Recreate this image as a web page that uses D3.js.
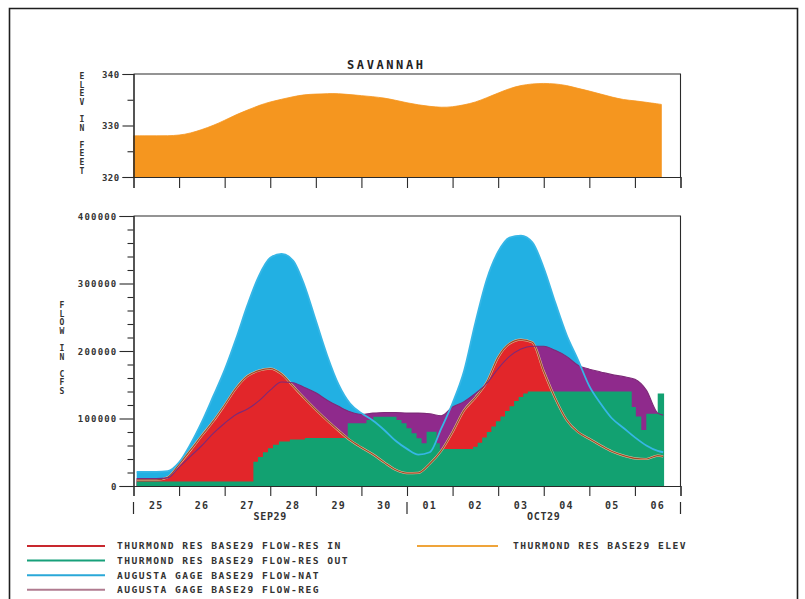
<!DOCTYPE html>
<html><head><meta charset="utf-8">
<script src="https://cdn.jsdelivr.net/npm/d3@7"></script>
<style>
body{margin:0;background:#fff}
svg{display:block}
text{font-family:"DejaVu Sans Mono",monospace;fill:#333}
</style>
</head><body>
<svg id="c" width="805" height="599"></svg>
<script>
// ---------- DATA ----------
const title = "SAVANNAH";
// day offsets from 25 Sep (6-hourly samples)
const flowDays = [0.07,0.25,0.5,0.75,1,1.25,1.5,1.75,2,2.25,2.5,2.75,3,3.25,3.5,3.75,4,4.25,4.5,4.75,5,5.25,5.5,5.75,6,6.25,6.5,6.75,7,7.25,7.5,7.75,8,8.25,8.5,8.75,9,9.25,9.5,9.75,10,10.25,10.5,10.75,11,11.25,11.5,11.62];
const elevDays = [0,0.25,0.5,0.75,1,1.25,1.5,1.75,2,2.25,2.5,2.75,3,3.25,3.5,3.75,4,4.25,4.5,4.75,5,5.25,5.5,5.75,6,6.25,6.5,6.75,7,7.25,7.5,7.75,8,8.25,8.5,8.75,9,9.25,9.5,9.75,10,10.25,10.5,10.75,11,11.25,11.5,11.58];
const elev = [328.0,328.0,328.0,328.0,328.1,328.5,329.2,330.0,331.0,332.1,333.0,333.9,334.6,335.1,335.6,336.0,336.1,336.2,336.2,336.0,335.8,335.6,335.35,334.9,334.4,334.0,333.7,333.5,333.6,334.0,334.5,335.4,336.3,337.2,337.8,338.1,338.2,338.1,337.8,337.2,336.7,336.1,335.5,335.0,334.8,334.5,334.2,334.1];
const flowNat = [21000,21000,21000,22000,35000,62000,95000,133000,172000,218000,268000,311000,338000,344000,334000,297000,245000,193000,150000,122000,108000,97000,83000,67000,55000,46500,50000,85000,123000,170000,242000,306000,347000,368000,371000,361000,323000,272000,224000,187000,148000,122000,100000,86000,72000,60000,52000,50000];
const flowResIn = [9000,9000,9000,13000,32000,53000,75000,96000,120000,145000,163000,171000,174000,166000,148000,130000,113000,97000,82000,68000,57000,47000,35000,24000,19000,19500,33000,52000,80000,112000,131000,154000,191000,211000,217000,213000,170000,130000,98000,80000,70000,60000,51000,45000,41000,40000,45000,44000];
const flowReg = [11000,11000,11000,12000,28000,44000,60000,78000,93000,106000,114000,126000,142000,154000,153000,146000,138000,127000,118000,110000,106000,108000,109000,109000,108000,108000,107000,104000,117000,125000,137000,152000,174000,192000,203000,207000,207000,201000,192000,179000,173000,169000,165000,162000,158000,142000,108000,105000];
// reservoir outflow is stepped: change points (day offset) and values
const outDays = [0.07,2.63,2.73,2.84,2.95,3.06,3.19,3.43,3.76,4.7,5.11,5.26,5.77,5.88,5.99,6.1,6.21,6.32,6.43,6.65,6.72,7.45,7.55,7.65,7.75,7.85,7.95,8.05,8.15,8.25,8.35,8.45,8.55,8.65,10.93,11.02,11.14,11.25,11.5,11.64];
const flowResOut = [6500,36000,43000,50000,56000,61000,66000,69000,71000,92800,97800,102700,97800,92800,85400,78000,70600,63200,80500,63200,55000,58000,64000,72000,80000,88000,96000,103000,111000,118000,126000,132000,137000,140000,117000,103000,83000,107000,137000,137000];
const elevTicksMajor = [320,330,340], elevTicksMinor = [325,335];
const flowTicksMajor = [0,100000,200000,300000,400000];
const flowTicksMinor = [20000,40000,60000,80000,120000,140000,160000,180000,220000,240000,260000,280000,320000,340000,360000,380000];
const dayLabels = ["25","26","27","28","29","30","01","02","03","04","05","06"];
const monthLabels = ["SEP29","OCT29"];
const legendLeft = ["THURMOND RES BASE29 FLOW-RES IN","THURMOND RES BASE29 FLOW-RES OUT","AUGUSTA GAGE BASE29 FLOW-NAT","AUGUSTA GAGE BASE29 FLOW-REG"];
const legendRight = ["THURMOND RES BASE29 ELEV"];
const yTitleTop = "ELEV IN FEET", yTitleBottom = "FLOW IN CFS";

// ---------- STYLE ----------
const C = {orange:"#f5961f", blue:"#22b0e3", red:"#e2262a", green:"#12a171", purple:"#8f2a8c",
  resInLine:"#9e4a28", natLine:"#36b6e6", regLine:"#7d2a78", axis:"#2a2a2a"};
const legendColors = ["#c8282e","#17a07a","#2aa8d8","#b07b90"];

const svg = d3.select("#c");
const t0 = new Date(1929, 8, 25);
const toDate = d => new Date(t0.getTime() + d*864e5);
const x = d3.scaleTime().domain([t0, d3.timeDay.offset(t0, 12)]).range([133.5, 680.5]);
const yE = d3.scaleLinear().domain([320, 340]).range([177, 74]);
const yF = d3.scaleLinear().domain([0, 400000]).range([486, 216]);

function label(g, px, py, str, o) {
  o = o || {};
  return g.append("text")
    .attr("transform", `translate(${px},${py}) scale(${o.sx||1},1)`)
    .attr("text-anchor", o.anchor || "start")
    .style("font-size", (o.size||9) + "px")
    .style("font-weight", o.weight || "normal")
    .style("letter-spacing", (o.ls||0) + "px")
    .text(str);
}

// outer frame
svg.append("path").attr("d","M9.5,599V8.5H797.5V599").attr("fill","none").attr("stroke","#1e1e1e").attr("stroke-width",1.6);

// title
label(svg, 347, 68.5, title, {size:12, weight:"bold", ls:2.6}).style("fill","#222");

// ---------- TOP PANEL ----------
const topG = svg.append("g");
const elevData = elevDays.map((d,i)=>({t:toDate(d), v:elev[i]}));
topG.append("path").datum(elevData)
  .attr("fill", C.orange).attr("stroke", C.orange).attr("stroke-width", 0.8)
  .attr("d", d3.area().curve(d3.curveBasis).x(d=>x(d.t)).y0(yE(320)).y1(d=>yE(d.v)));

topG.append("path").attr("d",`M${x.range()[0]},${yE(340)}H${x.range()[1]}V${yE(320)}`)
  .attr("fill","none").attr("stroke",C.axis).attr("stroke-width",1.1);

topG.append("g").attr("transform",`translate(${x.range()[0]},0)`)
  .call(d3.axisLeft(yE).tickValues(elevTicksMinor).tickSize(6).tickFormat(""));
const gE = topG.append("g").attr("transform",`translate(${x.range()[0]},0)`)
  .call(d3.axisLeft(yE).tickValues(elevTicksMajor).tickSize(11).tickPadding(3));
gE.selectAll("text").style("font-size","9px").style("font-weight","bold").style("letter-spacing","0.4px").attr("dy","0.35em");
topG.append("g").attr("transform",`translate(0,${yE(320)})`)
  .call(d3.axisBottom(x).ticks(d3.timeDay.every(1)).tickSize(11).tickFormat(""));

// ---------- BOTTOM PANEL ----------
const botG = svg.append("g");
const fl = flowDays.map((d,i)=>({t:toDate(d), nat:flowNat[i], rin:flowResIn[i], reg:flowReg[i]}));
const outData = outDays.map((d,i)=>({t:toDate(d), v:flowResOut[i]}));
const areaOf = key => d3.area().curve(d3.curveMonotoneX).x(d=>x(d.t)).y0(yF(0)).y1(d=>yF(d[key]));
const lineOf = key => d3.line().curve(d3.curveMonotoneX).x(d=>x(d.t)).y(d=>yF(d[key]));

botG.append("path").datum(fl).attr("fill",C.blue).attr("d",areaOf("nat"));
botG.append("path").datum(fl).attr("fill",C.purple).attr("d",areaOf("reg"));
botG.append("path").datum(fl).attr("fill",C.red).attr("d",areaOf("rin"));
botG.append("path").datum(outData).attr("fill",C.green)
  .attr("d", d3.area().curve(d3.curveStepAfter).x(d=>x(d.t)).y0(yF(0)).y1(d=>yF(d.v)));

botG.append("path").datum(fl).attr("fill","none").attr("stroke","#e6c4a2").attr("stroke-width",2.2).attr("d",lineOf("rin"));
botG.append("path").datum(fl).attr("fill","none").attr("stroke",C.resInLine).attr("stroke-width",1.2).attr("d",lineOf("rin"));
botG.append("path").datum(fl).attr("fill","none").attr("stroke",C.regLine).attr("stroke-width",1.1).attr("d",lineOf("reg"));
botG.append("path").datum(fl).attr("fill","none").attr("stroke",C.natLine).attr("stroke-width",1.8).attr("d",lineOf("nat"));

botG.append("path").attr("d",`M${x.range()[0]},${yF(400000)}H${x.range()[1]}V${yF(0)}`)
  .attr("fill","none").attr("stroke",C.axis).attr("stroke-width",1.1);

botG.append("g").attr("transform",`translate(${x.range()[0]},0)`)
  .call(d3.axisLeft(yF).tickValues(flowTicksMinor).tickSize(6).tickFormat(""));
const gF = botG.append("g").attr("transform",`translate(${x.range()[0]},0)`)
  .call(d3.axisLeft(yF).tickValues(flowTicksMajor).tickSize(14).tickPadding(2).tickFormat(d3.format("d")));
gF.selectAll("text").style("font-size","9px").style("font-weight","bold").style("letter-spacing","1.2px").attr("dy","0.35em");

botG.append("g").attr("transform",`translate(0,${yF(0)})`)
  .call(d3.axisBottom(x).ticks(d3.timeDay.every(1)).tickSize(10).tickFormat(""));
const noon = dayLabels.map((s,i)=>d3.timeHour.offset(d3.timeDay.offset(t0,i),12));
dayLabels.forEach((s,i)=> label(botG, x(noon[i]), 509, s, {size:10, anchor:"middle", ls:1.2, weight:"bold"}));
[0,6,12].forEach(i=>{
  const px = x(d3.timeDay.offset(t0,i));
  botG.append("line").attr("x1",px).attr("x2",px).attr("y1",502).attr("y2",514).attr("stroke",C.axis).attr("stroke-width",1.2);
});
monthLabels.forEach((s,i)=>{
  const mid = x(d3.timeDay.offset(t0, i*6+3));
  label(botG, mid, 520, s, {size:10, anchor:"middle", ls:0.7, weight:"bold"});
});

svg.selectAll(".domain").attr("stroke",C.axis).attr("stroke-width",1.1);
svg.selectAll(".tick line").attr("stroke",C.axis).attr("stroke-width",1.1);
svg.selectAll(".tick text").attr("fill","#333").style("font-family","DejaVu Sans Mono, monospace");

function stacked(str, px, py0, pitch) {
  let yy = py0;
  for (const ch of str) {
    if (ch !== " ") label(svg, px, yy, ch, {size:8, anchor:"middle", weight:"bold"});
    yy += pitch;
  }
}
stacked(yTitleTop, 82, 79, 8.6);
stacked(yTitleBottom, 62, 308, 8.6);

// ---------- LEGEND ----------
legendLeft.forEach((s,i)=>{
  const yy = 546 + i*14.6;
  svg.append("line").attr("x1",27).attr("x2",105).attr("y1",yy).attr("y2",yy)
    .attr("stroke",legendColors[i]).attr("stroke-width",2);
  label(svg, 117, yy+3.3, s, {size:8.6, sx:1.12, ls:1.3, weight:"bold"});
});
legendRight.forEach((s,i)=>{
  const yy = 546 + i*14.6;
  svg.append("line").attr("x1",417).attr("x2",498).attr("y1",yy).attr("y2",yy)
    .attr("stroke","#efa43a").attr("stroke-width",2.2);
  label(svg, 513, yy+3.3, s, {size:8.6, sx:1.12, ls:1.3, weight:"bold"});
});
</script>
</body></html>
